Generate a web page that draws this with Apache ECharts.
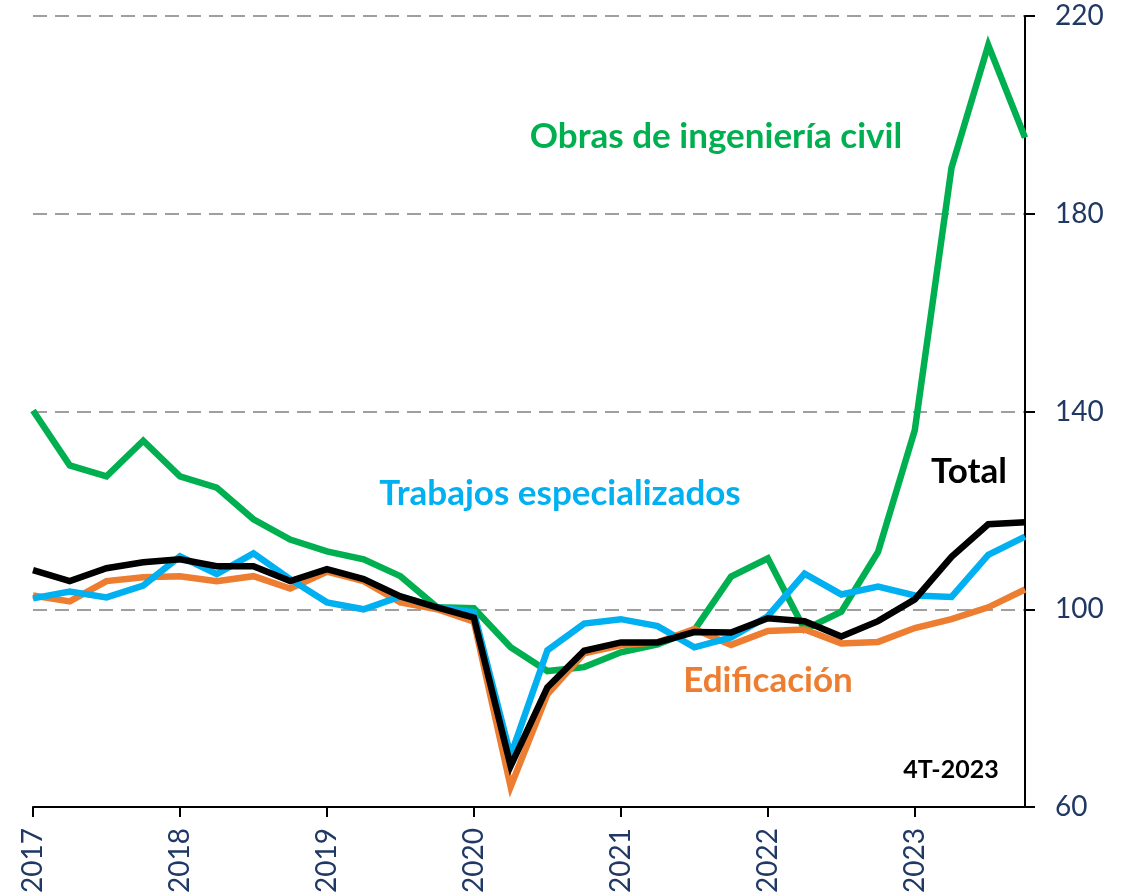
<!DOCTYPE html>
<html lang="es">
<head>
    <meta charset="UTF-8">
    <title>Índice de producción de la construcción</title>
    <script src="https://cdn.jsdelivr.net/npm/echarts@6.0.0/dist/echarts.min.js"></script>
    <style>
        html, body { margin: 0; padding: 0; background: #fff; }
        #chart { width: 1130px; height: 896px; }
    </style>
</head>
<body>
    <div id="chart"></div>
    <script>
        // trimestres 2017-T1 .. 2023-T4
        var quarters = [];
        for (var y = 2017; y <= 2023; y++) {
            for (var q = 1; q <= 4; q++) quarters.push(y + '-T' + q);
        }
        var yTicks = [60, 100, 140, 180, 220];

        var total = [107.9, 105.7, 108.3, 109.5, 110.1, 108.7, 108.7, 105.7, 108.1, 106.1, 102.6, 100.4, 98.3, 68.3,
            84.2, 91.6, 93.3, 93.3, 95.4, 95.3, 98.2, 97.6, 94.5, 97.6, 102.0, 110.6, 117.2, 117.6];
        var edificacion = [102.8, 101.6, 105.7, 106.5, 106.7, 105.7, 106.7, 104.2, 107.6, 105.7, 101.4, 100.0, 97.5, 64.1,
            82.8, 91.1, 92.7, 93.3, 96.0, 92.8, 95.6, 95.9, 93.1, 93.4, 96.2, 98.0, 100.4, 104.0];
        var obrasCivil = [140.2, 129.1, 126.9, 134.1, 126.9, 124.6, 118.2, 114.1, 111.7, 110.1, 106.7, 100.4, 100.2, 92.3,
            87.5, 88.3, 91.3, 92.9, 95.8, 106.6, 110.3, 95.9, 99.5, 111.6, 136.2, 189.3, 214.1, 195.4];
        var trabajos = [102.2, 103.6, 102.4, 104.8, 110.7, 107.1, 111.3, 106.1, 101.4, 100.0, 102.6, 100.4, 99.4, 70.4,
            91.7, 97.1, 98.0, 96.6, 92.3, 94.3, 98.6, 107.2, 103.0, 104.6, 102.8, 102.5, 111.0, 114.7];

        var txtFont = 'Lato, "Open Sans", sans-serif';
        var navy = '#203864';

        var chart = echarts.init(document.getElementById('chart'));

        function serie(name, data, color) {
            return {
                name: name,
                type: 'line',
                data: data,
                symbol: 'none',
                lineStyle: { color: color, width: 6.5, join: 'miter' },
                itemStyle: { color: color }
            };
        }

        function label(text, x, y, size, color) {
            return {
                type: 'text',
                x: x,
                y: y,
                silent: true,
                style: {
                    text: text,
                    fill: color,
                    font: 'bold ' + size + 'px ' + txtFont,
                    textAlign: 'center',
                    textVerticalAlign: 'middle'
                }
            };
        }

        var option = {
            animation: false,
            backgroundColor: '#fff',
            grid: { left: 33, right: 105, top: 16, bottom: 88 },
            xAxis: {
                type: 'category',
                data: quarters,
                boundaryGap: false,
                axisLine: { lineStyle: { color: '#000', width: 2 } },
                axisTick: {
                    length: 10,
                    interval: function (i) { return i % 4 === 0; },
                    lineStyle: { color: '#000', width: 2 }
                },
                axisLabel: {
                    interval: function (i) { return i % 4 === 0; },
                    formatter: function (v) { return v.slice(0, 4); },
                    rotate: 90,
                    margin: 21,
                    color: navy,
                    fontSize: 28,
                    fontFamily: txtFont
                },
                splitLine: { show: false }
            },
            yAxis: {
                type: 'value',
                position: 'right',
                min: yTicks[0],
                max: yTicks[yTicks.length - 1],
                interval: 40,
                axisLine: { show: true, lineStyle: { color: '#000', width: 2 } },
                axisTick: { show: true, length: 10, lineStyle: { color: '#000', width: 2 } },
                axisLabel: {
                    margin: 30,
                    color: navy,
                    fontSize: 28,
                    fontFamily: txtFont
                },
                splitLine: {
                    lineStyle: { color: '#808080', width: 1.5, type: [14, 8] }
                }
            },
            series: [
                serie('Obras de ingeniería civil', obrasCivil, '#00B050'),
                serie('Edificación', edificacion, '#ED7D31'),
                serie('Trabajos especializados', trabajos, '#00B0F0'),
                serie('Total', total, '#000000')
            ],
            graphic: [
                label('Obras de ingeniería civil', 716, 137, 35, '#00B050'),
                label('Trabajos especializados', 560, 494, 35, '#00B0F0'),
                label('Total', 969, 472, 35, '#000000'),
                label('Edificación', 768, 681, 35, '#ED7D31'),
                label('4T-2023', 951, 770, 25, '#000000')
            ]
        };

        chart.setOption(option);
    </script>
</body>
</html>
